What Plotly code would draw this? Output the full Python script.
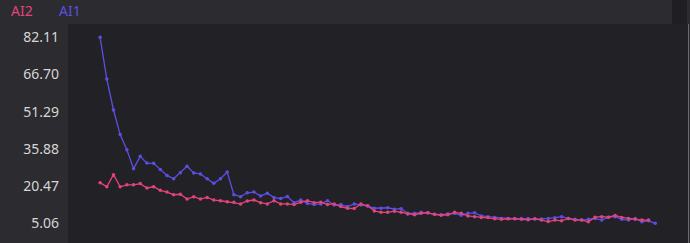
import plotly.graph_objects as go

# Series values
ai1 = [82.11, 64.8, 52.0, 41.8, 35.5, 27.7, 32.8, 30.0, 29.9, 27.3, 24.9, 23.5, 26.0, 28.7, 25.9, 25.5, 23.5, 21.6, 23.5, 26.3, 16.9,
       16.1, 17.7, 18.0, 16.4, 17.5, 15.7, 15.3, 16.2, 13.6, 14.7, 13.3, 12.9, 13.1, 14.4, 12.6, 12.8, 12.0, 13.1, 12.6, 12.2, 11.3, 11.3, 11.5, 10.9,
       11.1, 9.2, 9.2, 9.6, 9.4, 8.8, 8.6, 9.0, 9.2, 8.4, 9.2, 9.4, 8.1, 7.8, 7.5, 7.1, 7.1, 7.0, 7.1, 7.0, 6.8, 6.8,
       7.1, 7.4, 7.8, 7.1, 6.7, 6.4, 6.7, 7.1, 6.4, 7.6, 7.8, 6.7, 6.4, 7.1, 5.7, 6.1, 5.06]
ai2 = [21.9, 20.2, 25.2, 20.2, 21.0, 21.0, 21.5, 19.7, 20.2, 18.7, 18.0, 16.9, 17.1, 15.1, 16.1, 15.1, 15.8, 14.7, 14.4, 14.0, 13.8,
       13.1, 14.3, 14.7, 13.6, 13.1, 14.4, 13.1, 13.1, 12.8, 13.8, 14.4, 13.6, 13.8, 12.9, 13.1, 12.0, 11.3, 11.2, 13.1, 12.3, 10.2, 9.6, 9.6, 10.1,
       9.6, 8.9, 8.6, 9.2, 9.4, 8.8, 8.4, 8.6, 9.6, 9.2, 8.1, 7.8, 7.5, 7.5, 6.9, 6.7, 6.9, 6.9, 6.7, 6.5, 6.9, 6.4,
       5.8, 6.4, 6.1, 7.1, 6.4, 6.4, 5.7, 7.6, 7.8, 7.6, 8.3, 7.5, 7.1, 6.7, 6.4, 6.4]
y_ticks = [5.06, 20.47, 35.88, 51.29, 66.70, 82.11]
y_tick_labels = ["5.06", "20.47", "35.88", "51.29", "66.70", "82.11"]
series_names = ["AI2", "AI1"]

BLUE = "#5a4fe2"
RED = "#e2447a"

W, H = 690, 243
ML, MR, MT, MB = 68, 2, 24, 0
PW = W - ML - MR

def px_x(p):
    return (p - ML) / PW

fig = go.Figure()
fig.add_trace(go.Scatter(x=list(range(len(ai1))), y=ai1, mode="lines+markers", name="AI1",
                         line=dict(color=BLUE, width=1.3), marker=dict(color=BLUE, size=3.5)))
fig.add_trace(go.Scatter(x=list(range(len(ai2))), y=ai2, mode="lines+markers", name="AI2",
                         line=dict(color=RED, width=1.3), marker=dict(color=RED, size=3.5)))

fig.update_layout(
    width=W, height=H,
    margin=dict(l=ML, r=MR, t=MT, b=MB, pad=0),
    paper_bgcolor="#2b2b30",
    plot_bgcolor="#222226",
    showlegend=False,
    font=dict(family="Noto Sans", color="#d6d6d6", size=14),
    xaxis=dict(range=[-4.8, 87.9], showgrid=False, zeroline=False, showticklabels=False, ticks=""),
    yaxis=dict(range=[-3.1, 87.62], showgrid=False, zeroline=False, tickvals=y_ticks, ticktext=y_tick_labels,
               ticks="", ticklabelstandoff=8, tickfont=dict(size=14, color="#d6d6d6")),
    annotations=[
        dict(text=series_names[0], x=px_x(9), y=1, yref="paper", xref="paper", xanchor="left", yanchor="bottom",
             yshift=2, showarrow=False, font=dict(color=RED, size=14)),
        dict(text=series_names[1], x=px_x(57), y=1, yref="paper", xref="paper", xanchor="left", yanchor="bottom",
             yshift=2, showarrow=False, font=dict(color=BLUE, size=14)),
    ],
    shapes=[
        dict(type="rect", xref="paper", yref="paper", x0=px_x(672), x1=px_x(687), y0=1, y1=1 + MT / (H - MT - MB),
             fillcolor="#1f1f23", line=dict(width=0), layer="above"),
        dict(type="line", xref="paper", yref="paper", x0=px_x(688.5), x1=px_x(688.5), y0=0, y1=1,
             line=dict(color="#6a6a70", width=1), layer="above"),
    ],
)

fig.write_html("out.html")
